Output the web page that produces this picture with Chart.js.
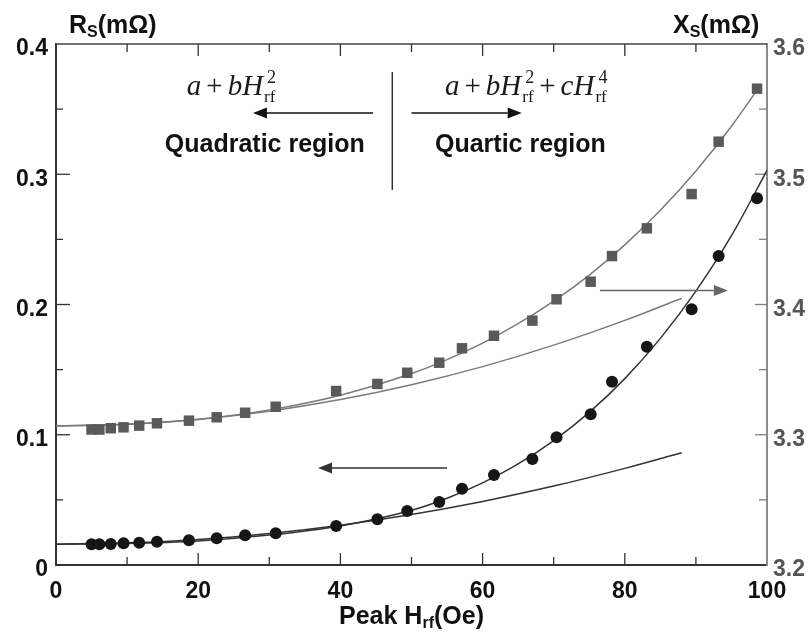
<!DOCTYPE html>
<html>
<head>
<meta charset="utf-8">
<script src="https://cdn.jsdelivr.net/npm/chart.js@4.4.1/dist/chart.umd.min.js"></script>
<style>
  html, body { margin: 0; padding: 0; background: #fff; }
  #wrap { width: 810px; height: 639px; }
</style>
</head>
<body>
<div id="wrap"><canvas id="surfaceChart" width="810" height="639"></canvas></div>
<script>
// peak rf field of each measured point (Oe)
var hField = [5.0, 6.1, 7.7, 9.5, 11.7, 14.2, 18.7, 22.6, 26.6, 30.9, 39.4, 45.2,
              49.4, 53.9, 57.1, 61.6, 67.0, 70.4, 75.2, 78.2, 83.1, 89.4, 93.2, 98.6];
// surface resistance Rs (left axis) and reactance Xs (right axis), mOhm
var rsMeasured = [0.0159, 0.0159, 0.0161, 0.0167, 0.0171, 0.0179, 0.0190, 0.0205, 0.0228, 0.0243, 0.0299, 0.0351,
                  0.0415, 0.0484, 0.0586, 0.0691, 0.0814, 0.0980, 0.1157, 0.1407, 0.1676, 0.1963, 0.2372, 0.2815];
var xsMeasured = [3.3040, 3.3040, 3.3050, 3.3057, 3.3070, 3.3088, 3.3108, 3.3134, 3.3169, 3.3215, 3.3336, 3.3390,
                  3.3476, 3.3553, 3.3664, 3.3760, 3.3876, 3.4040, 3.4175, 3.4372, 3.4585, 3.4848, 3.5250, 3.5657];

// fitted curves, sampled along the drawn lines
var fitH = [0, 10, 20, 30, 40, 50, 55, 60, 65, 70, 75, 80, 85, 90, 95, 100];
var rsQuartic = [0.0160, 0.0165, 0.0185, 0.0230, 0.0300, 0.0420, 0.0513, 0.0631, 0.0776, 0.0955, 0.1172,
                 0.1431, 0.1740, 0.2103, 0.2528, 0.3030];
var fitHQuad = [0, 10, 20, 30, 40, 50, 60, 70, 80, 88];
var rsQuadratic = [0.0160, 0.0170, 0.0196, 0.0242, 0.0306, 0.0388, 0.0488, 0.0606, 0.0742, 0.0862];
var fitHXs = [0, 10, 20, 30, 40, 50, 55, 60, 65, 70, 75, 80, 85, 90, 95, 99];
var xsQuartic = [3.3067, 3.3080, 3.3119, 3.3191, 3.3304, 3.3470, 3.3577, 3.3704, 3.3853, 3.4026, 3.4226,
                 3.4458, 3.4723, 3.5025, 3.5369, 3.5677];
var xsQuadratic = [3.3067, 3.3080, 3.3118, 3.3181, 3.3270, 3.3384, 3.3523, 3.3688, 3.3878, 3.4048];

// tick labels
var hTicks = [0, 20, 40, 60, 80, 100];
var rsTicks = [0, 0.1, 0.2, 0.3, 0.4];
var xsTicks = [3.2, 3.3, 3.4, 3.5, 3.6];

var sans = '"Liberation Sans", Arial, Helvetica, sans-serif';
var serif = '"Liberation Serif", "Times New Roman", serif';

function pts(xs, ys) {
    return xs.map(function (x, i) { return { x: x, y: ys[i] }; });
}

function fitLine(xs, ys, axis, color) {
    return {
        data: pts(xs, ys),
        yAxisID: axis,
        showLine: true,
        borderColor: color,
        borderWidth: 1.5,
        pointRadius: 0,
        cubicInterpolationMode: 'monotone',
        fill: false
    };
}

// horizontal arrow, tail at x0, tip at x1
function arrow(ctx, x0, x1, y, color) {
    var dir = x1 > x0 ? 1 : -1;
    var headLen = 14, halfW = 5.5;
    ctx.strokeStyle = color;
    ctx.fillStyle = color;
    ctx.lineWidth = 1.6;
    ctx.beginPath();
    ctx.moveTo(x0, y);
    ctx.lineTo(x1 - dir * headLen, y);
    ctx.stroke();
    ctx.beginPath();
    ctx.moveTo(x1, y);
    ctx.lineTo(x1 - dir * headLen, y - halfW);
    ctx.lineTo(x1 - dir * headLen, y + halfW);
    ctx.closePath();
    ctx.fill();
}

// a + bH^2_rf style formula, italic letters with stacked power/subscript
function drawFormula(ctx, x, y, parts) {
    ctx.textAlign = 'left';
    ctx.textBaseline = 'alphabetic';
    ctx.fillStyle = '#1a1a1a';
    parts.forEach(function (p) {
        if (p[0] === 'gap') {
            x += p[1];
        } else if (p[1] === 'pow') {
            ctx.font = '18px ' + serif;
            ctx.fillText(p[0], x + 4, y - 12);
            var w1 = ctx.measureText(p[0]).width + 4;
            ctx.font = '17px ' + serif;
            ctx.fillText('rf', x + 1, y + 7);
            var w2 = ctx.measureText('rf').width + 1;
            x += Math.max(w1, w2);
        } else {
            ctx.font = (p[1] === 'i' ? 'italic ' : '') + '29px ' + serif;
            ctx.fillText(p[0], x, y);
            x += ctx.measureText(p[0]).width;
        }
    });
}

// text with a small subscript in the middle, e.g. R_S(mOhm)
function drawSubTitle(ctx, x, y, main, sub, rest, size, align) {
    ctx.textBaseline = 'alphabetic';
    ctx.textAlign = 'left';
    ctx.font = 'bold ' + size + 'px ' + sans;
    var w1 = ctx.measureText(main).width;
    var w3 = ctx.measureText(rest).width;
    ctx.font = 'bold ' + Math.round(size * 0.62) + 'px ' + sans;
    var w2 = ctx.measureText(sub).width;
    if (align === 'center') x -= (w1 + w2 + w3) / 2;
    ctx.font = 'bold ' + size + 'px ' + sans;
    ctx.fillText(main, x, y);
    ctx.fillText(rest, x + w1 + w2, y);
    ctx.font = 'bold ' + Math.round(size * 0.62) + 'px ' + sans;
    ctx.fillText(sub, x + w1, y + 4);
}

var frameTicks = {
    id: 'frameTicks',
    beforeDatasetsDraw: function (chart) {
        var ctx = chart.ctx;
        var a = chart.chartArea;
        var sx = chart.scales.x, sl = chart.scales.yL, sr = chart.scales.yR;
        var v, p, len;
        ctx.save();
        // top frame line
        ctx.strokeStyle = '#444';
        ctx.lineWidth = 1.5;
        ctx.beginPath();
        ctx.moveTo(a.left, a.top);
        ctx.lineTo(a.right, a.top);
        ctx.stroke();
        // inward ticks on bottom and top
        ctx.strokeStyle = '#333';
        ctx.lineWidth = 1.3;
        for (v = 10; v < 100; v += 10) {
            p = sx.getPixelForValue(v);
            len = v % 20 === 0 ? 12 : 8;
            ctx.beginPath();
            ctx.moveTo(p, a.bottom);
            ctx.lineTo(p, a.bottom - len);
            ctx.moveTo(p, a.top);
            ctx.lineTo(p, a.top + len);
            ctx.stroke();
        }
        // left axis ticks
        for (v = 1; v < 8; v++) {
            p = sl.getPixelForValue(v * 0.05);
            len = v % 2 === 0 ? 14 : 7;
            ctx.beginPath();
            ctx.moveTo(a.left, p);
            ctx.lineTo(a.left + len, p);
            ctx.stroke();
        }
        // right axis ticks, grey
        ctx.strokeStyle = '#808080';
        for (v = 1; v < 8; v++) {
            p = sr.getPixelForValue(3.2 + v * 0.05);
            len = v % 2 === 0 ? 12 : 8;
            ctx.beginPath();
            ctx.moveTo(a.right, p);
            ctx.lineTo(a.right - len, p);
            ctx.stroke();
        }
        ctx.restore();
    },
    afterDatasetsDraw: function (chart) {
        var ctx = chart.ctx;
        var sx = chart.scales.x, sl = chart.scales.yL, sr = chart.scales.yR;
        var X = function (h) { return sx.getPixelForValue(h); };
        var L = function (r) { return sl.getPixelForValue(r); };
        ctx.save();

        // divider between the two regions
        ctx.strokeStyle = '#333';
        ctx.lineWidth = 1.5;
        ctx.beginPath();
        ctx.moveTo(X(47.3), L(0.3785));
        ctx.lineTo(X(47.3), L(0.288));
        ctx.stroke();

        drawFormula(ctx, X(18.4), L(0.3608), [
            ['a', 'i'], ['gap', 5], ['+', 'r'], ['gap', 5], ['b', 'i'], ['H', 'i'], ['2', 'pow']
        ]);
        drawFormula(ctx, X(54.7), L(0.3608), [
            ['a', 'i'], ['gap', 5], ['+', 'r'], ['gap', 5], ['b', 'i'], ['H', 'i'], ['2', 'pow'],
            ['gap', 5], ['+', 'r'], ['gap', 5], ['c', 'i'], ['H', 'i'], ['4', 'pow']
        ]);

        arrow(ctx, X(44.6), X(27.7), L(0.347), '#111');
        arrow(ctx, X(50.0), X(65.5), L(0.347), '#111');

        ctx.fillStyle = '#111';
        ctx.font = 'bold 25px ' + sans;
        ctx.textAlign = 'left';
        ctx.textBaseline = 'alphabetic';
        ctx.fillText('Quadratic region', X(15.3), L(0.317));
        ctx.fillText('Quartic region', X(53.3), L(0.317));

        // which axis each series belongs to
        arrow(ctx, X(76.5), X(94.5), sr.getPixelForValue(3.4107), '#666');
        arrow(ctx, X(55.0), X(36.85), L(0.0745), '#333');

        // axis titles
        ctx.fillStyle = '#111';
        drawSubTitle(ctx, 69, 33, 'R', 'S', '(m\u03A9)', 25, 'left');
        drawSubTitle(ctx, 673, 33, 'X', 'S', '(m\u03A9)', 25, 'left');
        var a = chart.chartArea;
        drawSubTitle(ctx, (a.left + a.right) / 2, 624, 'Peak H', 'rf', '(Oe)', 25, 'center');
        ctx.restore();
    }
};

var ctx = document.getElementById('surfaceChart').getContext('2d');
var chart = new Chart(ctx, {
    type: 'scatter',
    data: {
        datasets: [
            {
                data: pts(hField, rsMeasured),
                yAxisID: 'yL',
                pointStyle: 'circle',
                pointRadius: 6,
                backgroundColor: '#161616',
                borderWidth: 0
            },
            {
                data: pts(hField, xsMeasured),
                yAxisID: 'yR',
                pointStyle: 'rect',
                pointRadius: 7.4,
                backgroundColor: '#5a5a5a',
                borderWidth: 0
            },
            fitLine(fitH, rsQuartic, 'yL', '#333333'),
            fitLine(fitHQuad, rsQuadratic, 'yL', '#333333'),
            fitLine(fitHXs, xsQuartic, 'yR', '#7a7a7a'),
            fitLine(fitHQuad, xsQuadratic, 'yR', '#7a7a7a')
        ]
    },
    options: {
        responsive: false,
        animation: false,
        layout: { padding: { top: 44, left: 0, right: 0, bottom: 0 } },
        plugins: {
            legend: { display: false },
            tooltip: { enabled: false }
        },
        scales: {
            x: {
                type: 'linear',
                position: 'bottom',
                min: 0,
                max: 100,
                afterBuildTicks: function (s) { s.ticks = hTicks.map(function (v) { return { value: v }; }); },
                afterFit: function (s) { s.height = 74; },
                grid: { display: false, drawTicks: false },
                border: { display: true, color: '#333', width: 2 },
                ticks: {
                    padding: 13,
                    maxRotation: 0,
                    color: '#111',
                    font: { family: sans, size: 23, weight: 'bold' },
                    callback: function (v) { return String(v); }
                }
            },
            yL: {
                type: 'linear',
                position: 'left',
                min: 0,
                max: 0.4,
                afterBuildTicks: function (s) { s.ticks = rsTicks.map(function (v) { return { value: v }; }); },
                afterFit: function (s) { s.width = 56; },
                grid: { display: false, drawTicks: false },
                border: { display: true, color: '#333', width: 2 },
                ticks: {
                    padding: 8,
                    labelOffset: 5,
                    color: '#111',
                    font: { family: sans, size: 23, weight: 'bold' },
                    callback: function (v) { return String(v); }
                }
            },
            yR: {
                type: 'linear',
                position: 'right',
                min: 3.2,
                max: 3.6,
                afterBuildTicks: function (s) { s.ticks = xsTicks.map(function (v) { return { value: v }; }); },
                afterFit: function (s) { s.width = 43; },
                grid: { display: false, drawTicks: false },
                border: { display: true, color: '#8a8a8a', width: 2 },
                ticks: {
                    padding: 6,
                    labelOffset: 5,
                    color: '#555',
                    font: { family: sans, size: 23, weight: 'bold' },
                    callback: function (v) { return String(v); }
                }
            }
        }
    },
    plugins: [frameTicks]
});
</script>
</body>
</html>
